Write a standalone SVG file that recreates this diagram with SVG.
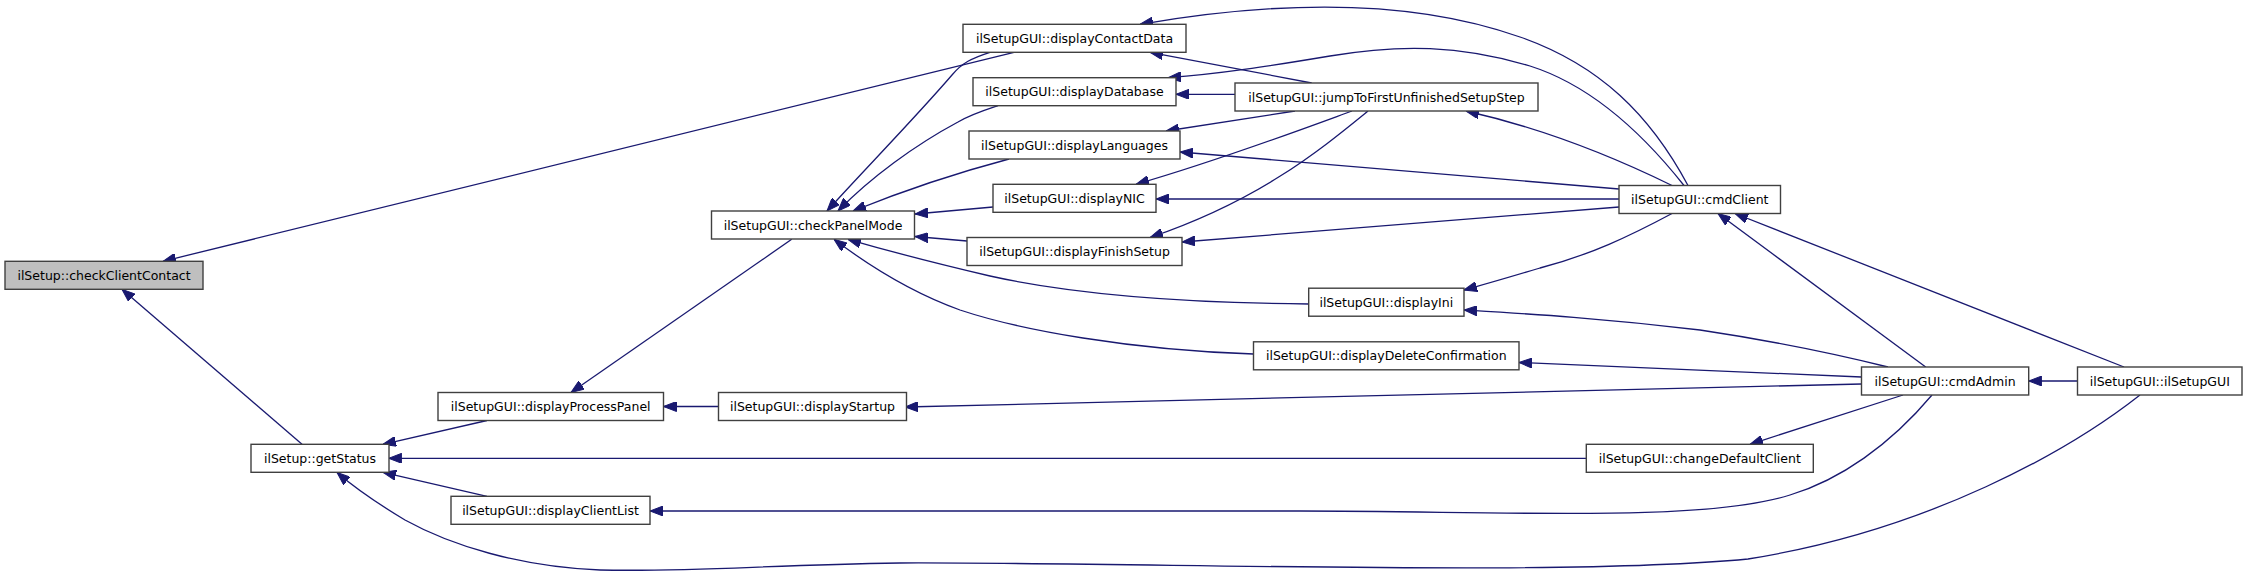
<svg xmlns="http://www.w3.org/2000/svg" width="2248" height="576" viewBox="0 0 2248 576">
<style>
.n rect{fill:#ffffff;stroke:#404040;stroke-width:1.4}
.n.cur rect{fill:#bfbfbf}
.n text{font-family:"DejaVu Sans","Liberation Sans",sans-serif;font-size:12.5px;fill:#000000;text-anchor:middle}
#edges path{fill:none;stroke:#191970;stroke-width:1.3;marker-end:url(#ah)}
</style>
<defs>
<marker id="ah" viewBox="0 0 13 10" refX="13" refY="5" markerWidth="13" markerHeight="10" markerUnits="userSpaceOnUse" orient="auto">
<path d="M0,0 L13,5 L0,10 z" fill="#191970" stroke="#191970" stroke-width="1"/>
</marker>
</defs>
<rect x="0" y="0" width="2248" height="576" fill="#ffffff"/>
<g id="edges">
<path d="M1014,52.3 L163,261.3"/>
<path d="M302,444.3 L122,289.3"/>
<path d="M487,420.5 L383,444.3"/>
<path d="M1586.3,458.3 L388.7,458.3"/>
<path d="M487,496.3 L383,472.3"/>
<path d="M2140,395 C2070,450 1930,530 1748,559 C1560,577 1150,562 900,563 C760,565 700,572 600,570 C520,567 450,545 405,520 C380,505 355,488 337,472.5"/>
<path d="M791.7,239.3 L571,392.5"/>
<path d="M718.5,406.5 L663.5,406.5"/>
<path d="M990,52.3 C972,58 962,63 952,75 C915,118 866,168 827,211"/>
<path d="M998,105.7 C985,110 972,114 958,122 C915,145 870,178 838,211"/>
<path d="M1009,159 C960,172 905,190 853,211"/>
<path d="M993,207 L915,214"/>
<path d="M967,241 L915,236.5"/>
<path d="M1308.7,304 C1200,303 1080,296 990,276 C930,262 885,250 848,239.3"/>
<path d="M1253.5,354 C1130,350 1020,330 960,310 C910,292 868,265 834,239.3"/>
<path d="M1311.7,83 L1150,52.3"/>
<path d="M1235,94.3 L1176,94.3"/>
<path d="M1295,111 L1166,131"/>
<path d="M1352,111 C1300,130 1220,160 1136,184.3"/>
<path d="M1368,111 C1320,150 1260,200 1150,237.5"/>
<path d="M1672,185.5 C1620,160 1550,130 1466,111"/>
<path d="M1688,185.5 C1650,115 1600,65 1520,37 C1430,5 1310,-5 1140,24.3"/>
<path d="M1684,185.5 C1640,130 1590,85 1530,66 C1460,45 1400,44 1330,56 C1270,66 1220,74 1168,77.7"/>
<path d="M1619,189 L1180,152"/>
<path d="M1619,199 L1156,199"/>
<path d="M1619,207 L1182,242"/>
<path d="M1672,213.5 C1630,236 1590,255 1540,268 C1510,277 1490,283 1464,290"/>
<path d="M1888,367 C1840,355 1780,342 1700,330 C1600,318 1530,314 1464,310"/>
<path d="M1861.5,377 L1519,362.5"/>
<path d="M1861.5,384 L905,407"/>
<path d="M1903,395 L1750,444.3"/>
<path d="M1932,395 C1890,445 1840,480 1790,495 C1700,523 1500,511 1300,511 L650,511"/>
<path d="M1925.7,367 L1718,213.5"/>
<path d="M2124,367 L1735,213.5"/>
<path d="M2077.5,381 L2028.7,381"/>
</g>
<g id="checkClientContact" class="n cur"><rect x="5" y="261.3" width="198" height="28"/><text x="104" y="279.8">ilSetup::checkClientContact</text></g>
<g id="getStatus" class="n"><rect x="251" y="444.3" width="138" height="28"/><text x="320" y="462.8">ilSetup::getStatus</text></g>
<g id="displayProcessPanel" class="n"><rect x="438" y="392.5" width="225.5" height="28"/><text x="550.7" y="411">ilSetupGUI::displayProcessPanel</text></g>
<g id="displayStartup" class="n"><rect x="718.5" y="392.5" width="188" height="28"/><text x="812.5" y="411">ilSetupGUI::displayStartup</text></g>
<g id="displayClientList" class="n"><rect x="451" y="496.3" width="199" height="28"/><text x="550.5" y="514.8">ilSetupGUI::displayClientList</text></g>
<g id="checkPanelMode" class="n"><rect x="711.5" y="211" width="203" height="28"/><text x="813" y="229.5">ilSetupGUI::checkPanelMode</text></g>
<g id="displayContactData" class="n"><rect x="963" y="24.3" width="223" height="28"/><text x="1074.5" y="42.8">ilSetupGUI::displayContactData</text></g>
<g id="displayDatabase" class="n"><rect x="973" y="77.7" width="203" height="28"/><text x="1074.5" y="96.2">ilSetupGUI::displayDatabase</text></g>
<g id="displayLanguages" class="n"><rect x="969" y="131" width="211" height="28"/><text x="1074.5" y="149.5">ilSetupGUI::displayLanguages</text></g>
<g id="displayNIC" class="n"><rect x="993" y="184.3" width="163" height="28"/><text x="1074.5" y="202.8">ilSetupGUI::displayNIC</text></g>
<g id="displayFinishSetup" class="n"><rect x="967" y="237.5" width="215" height="28"/><text x="1074.5" y="256">ilSetupGUI::displayFinishSetup</text></g>
<g id="displayIni" class="n"><rect x="1308.7" y="288.2" width="155.3" height="28"/><text x="1386.3" y="306.7">ilSetupGUI::displayIni</text></g>
<g id="displayDeleteConfirmation" class="n"><rect x="1253.5" y="341.8" width="265.5" height="28"/><text x="1386.3" y="360.3">ilSetupGUI::displayDeleteConfirmation</text></g>
<g id="jumpToFirstUnfinishedSetupStep" class="n"><rect x="1235" y="83" width="303" height="28"/><text x="1386.5" y="101.5">ilSetupGUI::jumpToFirstUnfinishedSetupStep</text></g>
<g id="cmdClient" class="n"><rect x="1619" y="185.5" width="161.5" height="28"/><text x="1699.8" y="204">ilSetupGUI::cmdClient</text></g>
<g id="changeDefaultClient" class="n"><rect x="1586.3" y="444.3" width="227" height="28"/><text x="1699.8" y="462.8">ilSetupGUI::changeDefaultClient</text></g>
<g id="cmdAdmin" class="n"><rect x="1861.5" y="367" width="167.2" height="28"/><text x="1945.1" y="385.5">ilSetupGUI::cmdAdmin</text></g>
<g id="ilSetupGUI" class="n"><rect x="2077.5" y="367" width="164.5" height="28"/><text x="2159.8" y="385.5">ilSetupGUI::ilSetupGUI</text></g>
</svg>
